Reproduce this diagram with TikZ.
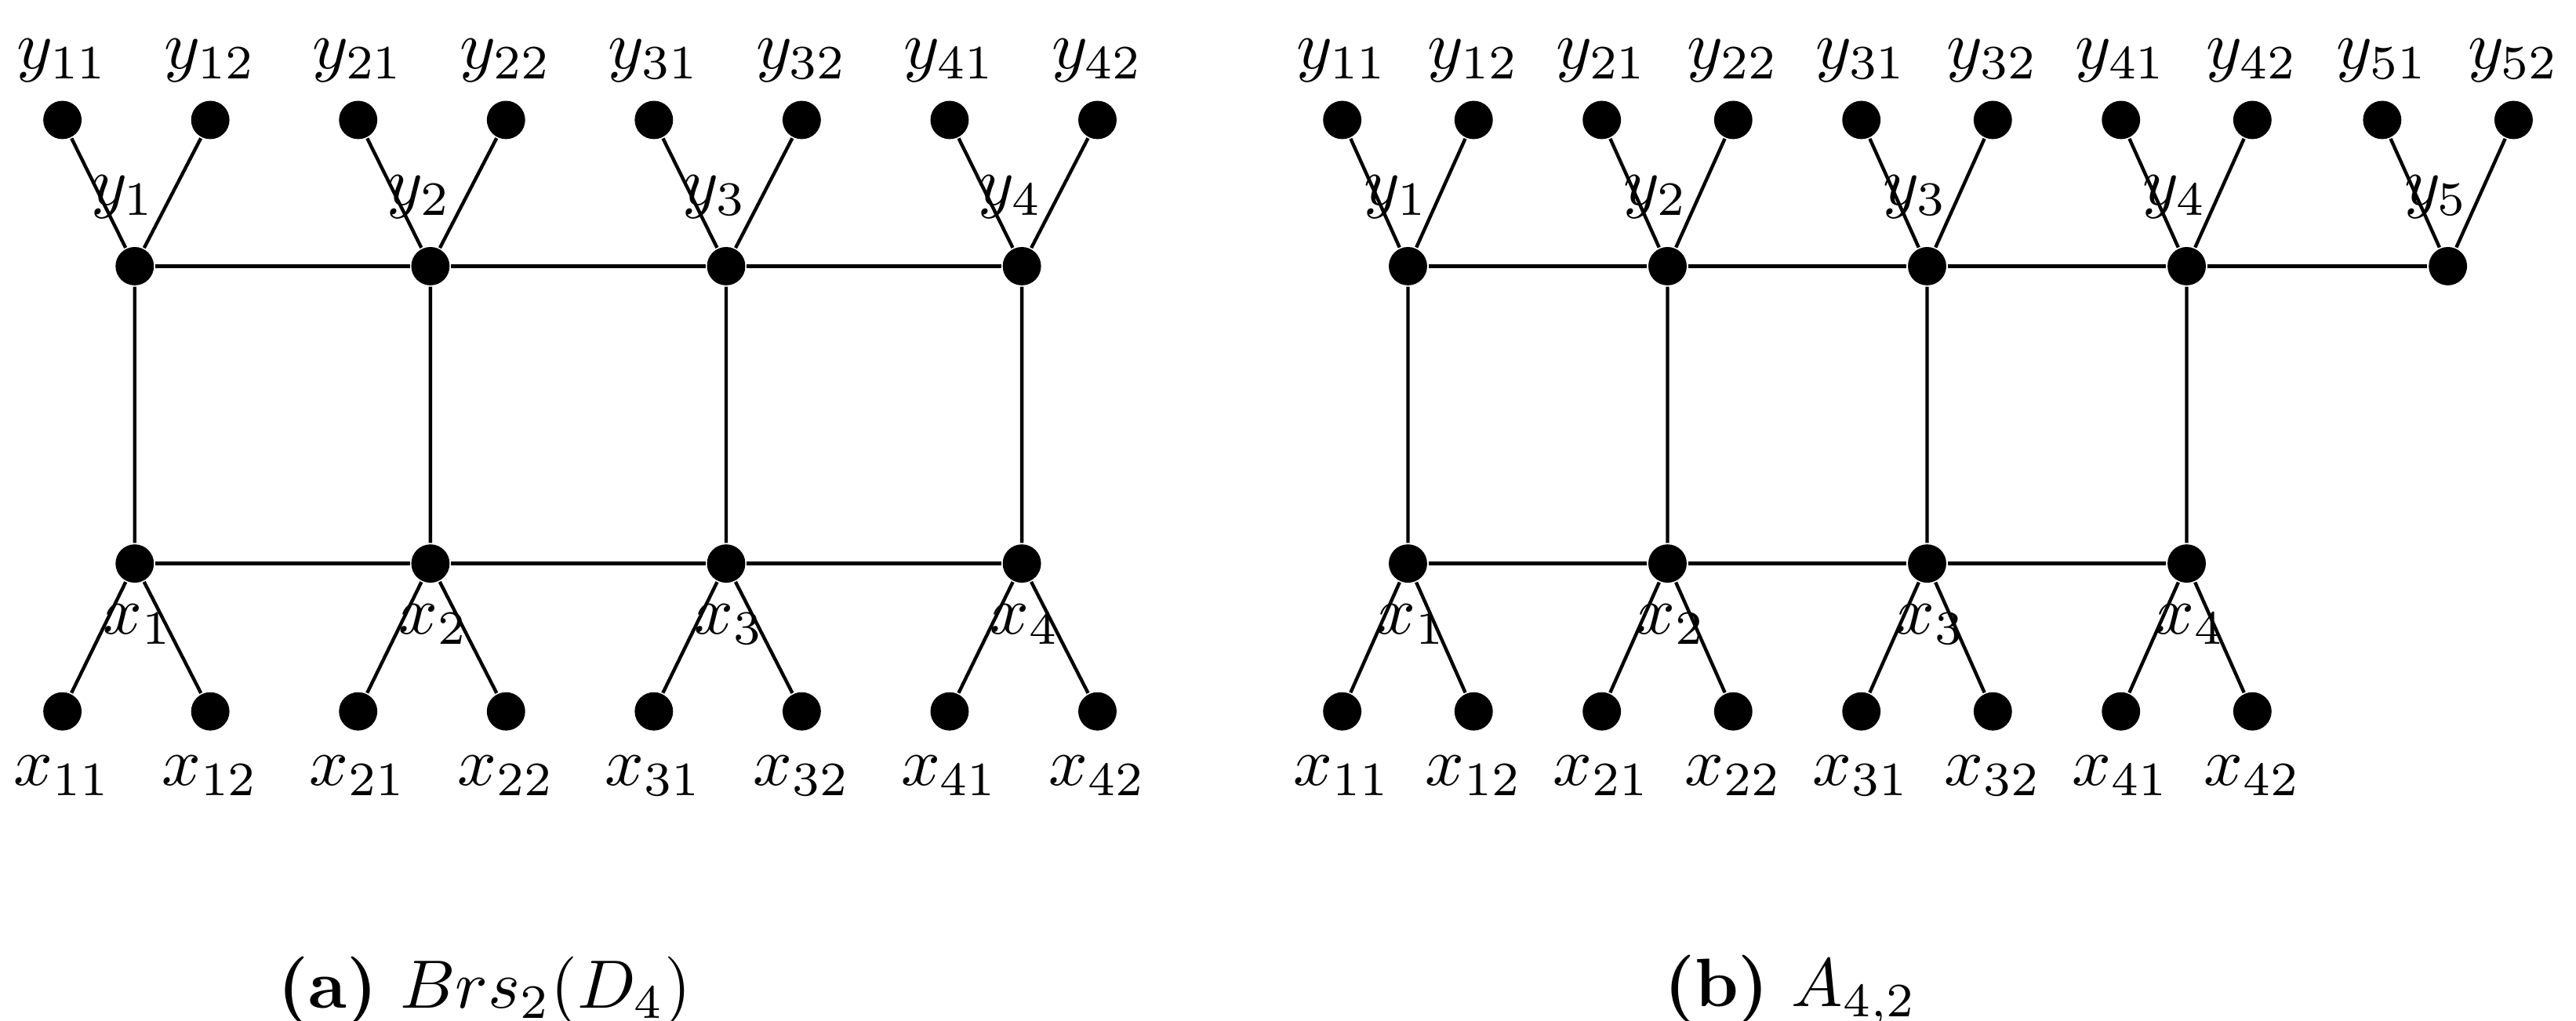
\documentclass[tikz,border=0pt]{standalone}
\begin{document}
\begin{tikzpicture}[x=0.24pt,y=-0.24pt,
  v/.style={circle,fill=black,inner sep=0pt,minimum size=5.6pt},
  lab/.style={inner sep=0pt,font=\normalsize},
  e/.style={line width=0.5pt}]
\useasboundingbox (0,0) rectangle (1568,621);
% left graph
\foreach \i/\x in {1/82,2/262,3/442,4/622}{
  \node[v] (ly\i) at (\x,162) {};
  \node[v] (lx\i) at (\x,343) {};
  \node[v] (ly\i1) at (\x-44,73) {};
  \node[v] (ly\i2) at (\x+46,73) {};
  \node[v] (lx\i1) at (\x-44,433) {};
  \node[v] (lx\i2) at (\x+46,433) {};
  \node[lab] at (\x-44,37) {$y_{\i1}$};
  \node[lab] at (\x+46,37) {$y_{\i2}$};
  \node[lab] at (\x-44,472) {$x_{\i1}$};
  \node[lab] at (\x+46,472) {$x_{\i2}$};
  \node[lab] at (\x-7,120) {$y_{\i}$};
  \node[lab] at (\x+2,380) {$x_{\i}$};
  \draw[e] (ly\i)--(ly\i1) (ly\i)--(ly\i2) (lx\i)--(lx\i1) (lx\i)--(lx\i2) (ly\i)--(lx\i);
}
\draw[e] (ly1)--(ly2)--(ly3)--(ly4) (lx1)--(lx2)--(lx3)--(lx4);
% right graph
\foreach \i/\x in {1/857,2/1015,3/1173,4/1331,5/1490}{
  \node[v] (ry\i) at (\x,162) {};
  \node[v] (ry\i1) at (\x-40,73) {};
  \node[v] (ry\i2) at (\x+40,73) {};
  \node[lab] at (\x-40,37) {$y_{\i1}$};
  \node[lab] at (\x+40,37) {$y_{\i2}$};
  \node[lab] at (\x-7,120) {$y_{\i}$};
  \draw[e] (ry\i)--(ry\i1) (ry\i)--(ry\i2);
}
\foreach \i/\x in {1/857,2/1015,3/1173,4/1331}{
  \node[v] (rx\i) at (\x,343) {};
  \node[v] (rx\i1) at (\x-40,433) {};
  \node[v] (rx\i2) at (\x+40,433) {};
  \node[lab] at (\x-40,472) {$x_{\i1}$};
  \node[lab] at (\x+40,472) {$x_{\i2}$};
  \node[lab] at (\x+2,380) {$x_{\i}$};
  \draw[e] (rx\i)--(rx\i1) (rx\i)--(rx\i2) (ry\i)--(rx\i);
}
\draw[e] (ry1)--(ry2)--(ry3)--(ry4)--(ry5) (rx1)--(rx2)--(rx3)--(rx4);
\node[lab] (ca) at (295,603) {\textbf{(a)} $Brs_2(D_4)$};
\node[lab] (cb) at (1090,603) {\textbf{(b)} $A_{4,2}$};
\end{tikzpicture}
\end{document}
